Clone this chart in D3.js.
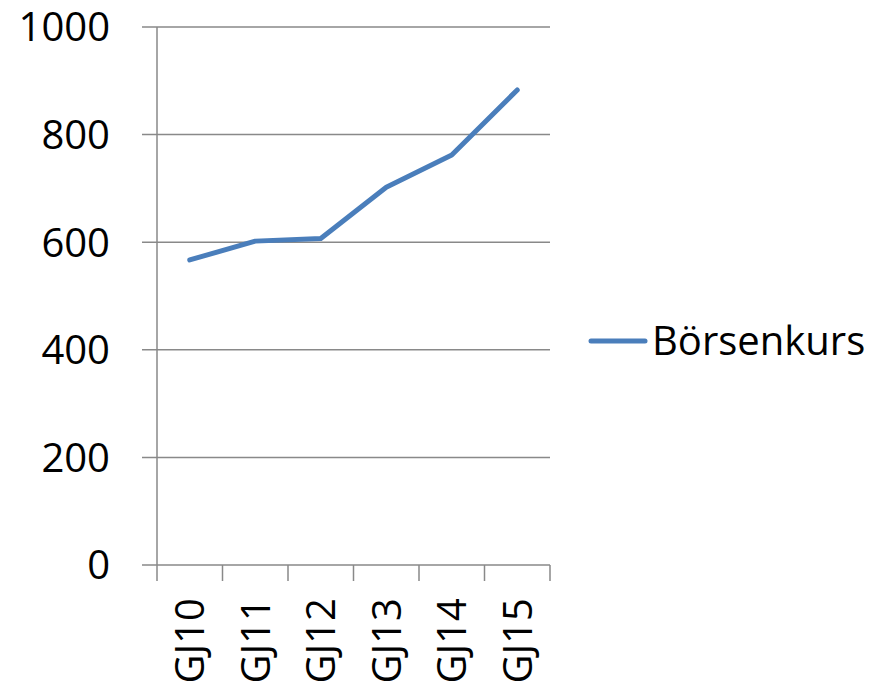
<!DOCTYPE html>
<html>
<head>
<meta charset="utf-8">
<script src="https://cdn.jsdelivr.net/npm/d3@7"></script>
<style>
  body { margin: 0; background: #fff; }
  text { font-family: "Open Sans", sans-serif; fill: #000; }
</style>
</head>
<body>
<div id="vis"></div>
<script>
// chart data
var categories = ["GJ10", "GJ11", "GJ12", "GJ13", "GJ14", "GJ15"];
var kurs = [567, 602, 607, 702, 762, 883];
var yTicks = [0, 200, 400, 600, 800, 1000];
var seriesName = "Börsenkurs";

var width = 886;
var height = 691;
var margin = { top: 27, left: 157, right: 336, bottom: 126 };
var w = width - margin.left - margin.right;
var h = height - margin.top - margin.bottom;

var svg = d3.select('#vis').append('svg')
    .attr('width', width)
    .attr('height', height);

var g = svg.append('g')
    .attr('transform', 'translate(' + margin.left + ',' + margin.top + ')');

var x = d3.scaleBand()
    .domain(categories)
    .range([0, w]);

var y = d3.scaleLinear()
    .domain([0, 1000])
    .range([h, 0]);

var grey = '#898989';

// horizontal gridlines (extend out left as tick marks)
g.append('g')
  .selectAll('line')
  .data(yTicks)
  .enter().append('line')
  .attr('x1', -15)
  .attr('x2', w)
  .attr('y1', function (d) { return y(d); })
  .attr('y2', function (d) { return y(d); })
  .style('stroke', grey)
  .style('stroke-width', '1.5px');

// y labels
g.append('g')
  .selectAll('text')
  .data(yTicks)
  .enter().append('text')
  .attr('x', -47)
  .attr('y', function (d) { return y(d); })
  .attr('dy', '0.36em')
  .attr('text-anchor', 'end')
  .style('font-size', '40px')
  .text(function (d) { return d; });

// y axis line
g.append('line')
  .attr('x1', 0).attr('x2', 0)
  .attr('y1', 0).attr('y2', h)
  .style('stroke', grey)
  .style('stroke-width', '1.5px');

// x ticks at band boundaries
var bounds = categories.map(function (c) { return x(c); }).concat([w]);
g.append('g')
  .selectAll('line')
  .data(bounds)
  .enter().append('line')
  .attr('x1', function (d) { return d; })
  .attr('x2', function (d) { return d; })
  .attr('y1', h)
  .attr('y2', h + 16)
  .style('stroke', grey)
  .style('stroke-width', '1.5px');

// x labels, rotated
g.append('g')
  .selectAll('text')
  .data(categories)
  .enter().append('text')
  .attr('transform', function (d) {
    return 'translate(' + (x(d) + x.bandwidth() / 2) + ',' + (h + 33) + ') rotate(-90)';
  })
  .attr('dy', '0.36em')
  .attr('text-anchor', 'end')
  .style('font-size', '40px')
  .text(function (d) { return d; });

// the line
var line = d3.line()
    .x(function (d, i) { return x(categories[i]) + x.bandwidth() / 2; })
    .y(function (d) { return y(d); });

g.append('path')
  .datum(kurs)
  .attr('d', line)
  .style('fill', 'none')
  .style('stroke', '#4a7ebb')
  .style('stroke-width', '5px')
  .style('stroke-linecap', 'round')
  .style('stroke-linejoin', 'round');

// legend
var legend = svg.append('g')
    .attr('transform', 'translate(591,341)');

legend.append('line')
  .attr('x1', 0).attr('x2', 54)
  .attr('y1', 0).attr('y2', 0)
  .style('stroke', '#4a7ebb')
  .style('stroke-width', '5px')
  .style('stroke-linecap', 'round');

legend.append('text')
  .attr('x', 61)
  .attr('y', 0)
  .attr('dy', '0.36em')
  .style('font-size', '40px')
  .text(seriesName);
</script>
</body>
</html>
